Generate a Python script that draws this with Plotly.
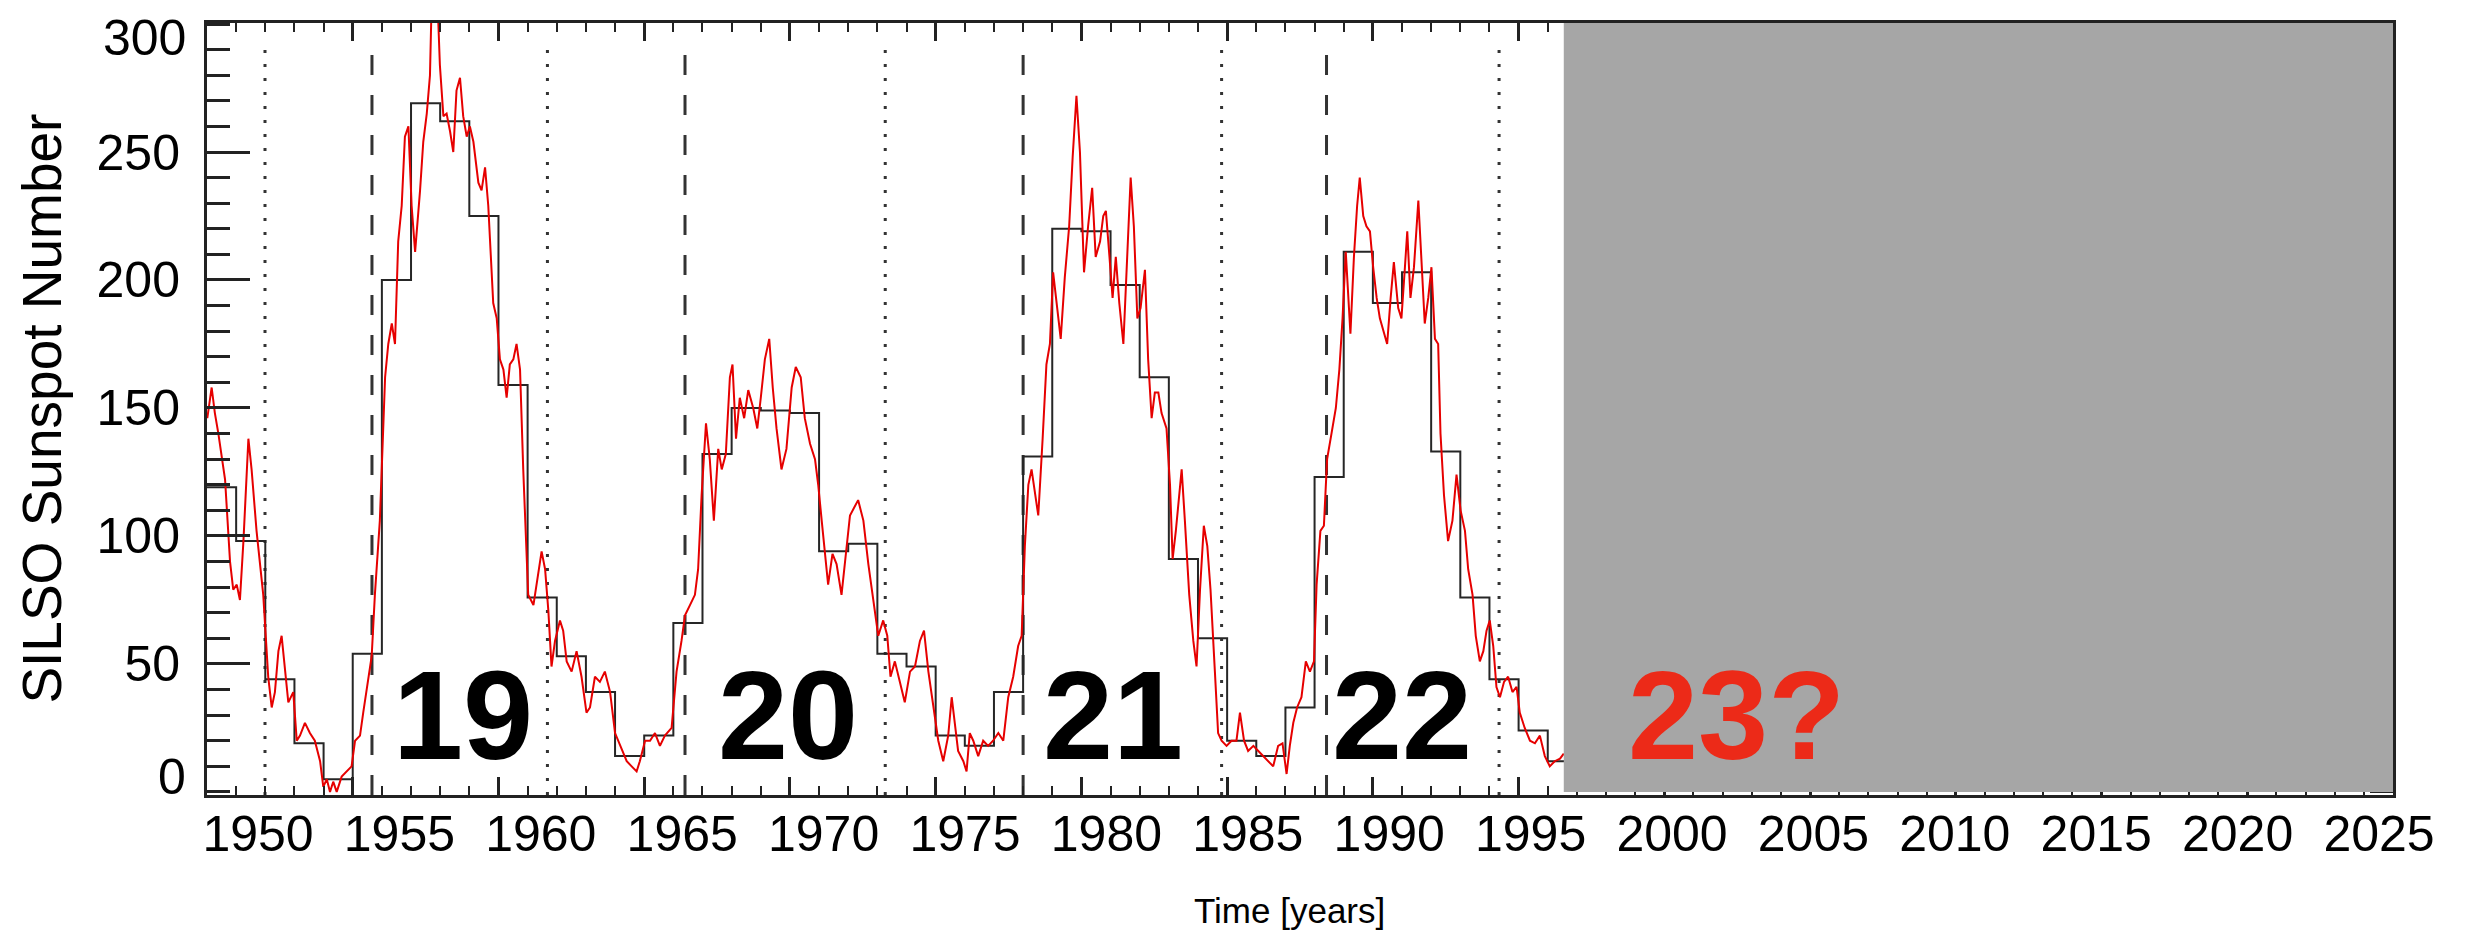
import plotly.graph_objects as go

# ---- data -------------------------------------------------------------
# yearly mean sunspot number (black steps), one value per calendar year
step_years = list(range(1950, 1997))
step_values = [119, 98, 44, 19, 5, 54, 200, 269, 262, 225, 159, 76, 53, 39, 14,
               22, 66, 132, 150, 149, 148, 94, 97, 54, 49, 22, 18, 39, 131, 220,
               219, 198, 162, 91, 60, 20, 14, 33, 123, 211, 191, 203, 133, 76,
               44, 24, 12]

# smoothed monthly sunspot number (red curve)
red_years = [
    1950.01, 1950.16, 1950.27, 1950.39, 1950.62, 1950.79, 1950.90, 1951.02, 1951.13, 1951.25,
    1951.42, 1951.53, 1951.70, 1951.93, 1952.10, 1952.22, 1952.33, 1952.45, 1952.56, 1952.68,
    1952.79, 1952.96, 1953.08, 1953.19, 1953.36, 1953.53, 1953.70, 1953.88, 1953.99, 1954.11,
    1954.22, 1954.33, 1954.45, 1954.62, 1954.79, 1954.96, 1955.08, 1955.25, 1955.36, 1955.53,
    1955.65, 1955.76, 1955.93, 1956.11, 1956.22, 1956.34, 1956.45, 1956.56, 1956.68, 1956.79,
    1956.91, 1957.02, 1957.14, 1957.31, 1957.42, 1957.54, 1957.65, 1957.76, 1957.88, 1957.99,
    1958.11, 1958.22, 1958.34, 1958.45, 1958.56, 1958.68, 1958.79, 1958.91, 1959.02, 1959.14,
    1959.31, 1959.42, 1959.54, 1959.65, 1959.82, 1959.94, 1960.05, 1960.17, 1960.28, 1960.39,
    1960.51, 1960.62, 1960.74, 1960.85, 1961.02, 1961.20, 1961.37, 1961.48, 1961.60, 1961.71,
    1961.82, 1961.94, 1962.11, 1962.22, 1962.34, 1962.51, 1962.68, 1962.85, 1963.02, 1963.14,
    1963.31, 1963.48, 1963.65, 1963.83, 1964.00, 1964.17, 1964.40, 1964.57, 1964.74, 1964.85,
    1965.03, 1965.20, 1965.37, 1965.54, 1965.71, 1965.94, 1966.11, 1966.28, 1966.40, 1966.57,
    1966.74, 1966.85, 1966.97, 1967.12, 1967.25, 1967.39, 1967.54, 1967.66, 1967.80, 1967.94,
    1968.03, 1968.15, 1968.28, 1968.43, 1968.57, 1968.74, 1968.88, 1969.00, 1969.14, 1969.29,
    1969.41, 1969.54, 1969.71, 1969.88, 1970.06, 1970.20, 1970.37, 1970.51, 1970.69, 1970.86,
    1970.97, 1971.09, 1971.20, 1971.31, 1971.46, 1971.60, 1971.77, 1971.94, 1972.06, 1972.20,
    1972.34, 1972.52, 1972.69, 1972.86, 1973.03, 1973.20, 1973.34, 1973.45, 1973.60, 1973.77,
    1973.94, 1974.12, 1974.29, 1974.46, 1974.60, 1974.75, 1974.92, 1975.09, 1975.26, 1975.43,
    1975.55, 1975.66, 1975.77, 1975.95, 1976.06, 1976.17, 1976.29, 1976.46, 1976.63, 1976.80,
    1976.97, 1977.15, 1977.32, 1977.49, 1977.66, 1977.83, 1977.95, 1978.06, 1978.18, 1978.29,
    1978.40, 1978.52, 1978.67, 1978.80, 1978.92, 1979.03, 1979.17, 1979.29, 1979.43, 1979.58,
    1979.70, 1979.83, 1979.95, 1980.09, 1980.23, 1980.37, 1980.49, 1980.64, 1980.75, 1980.84,
    1980.95, 1981.07, 1981.18, 1981.30, 1981.44, 1981.55, 1981.69, 1981.80, 1981.92, 1982.03,
    1982.18, 1982.29, 1982.41, 1982.52, 1982.64, 1982.75, 1982.92, 1983.04, 1983.13, 1983.24,
    1983.44, 1983.55, 1983.70, 1983.84, 1983.95, 1984.07, 1984.20, 1984.32, 1984.43, 1984.58,
    1984.69, 1984.81, 1984.98, 1985.15, 1985.32, 1985.44, 1985.58, 1985.72, 1985.90, 1986.07,
    1986.24, 1986.41, 1986.58, 1986.75, 1986.90, 1987.04, 1987.15, 1987.27, 1987.40, 1987.55,
    1987.70, 1987.84, 1987.98, 1988.07, 1988.20, 1988.32, 1988.43, 1988.58, 1988.73, 1988.85,
    1988.96, 1989.07, 1989.15, 1989.23, 1989.35, 1989.46, 1989.55, 1989.67, 1989.78, 1989.90,
    1990.01, 1990.13, 1990.24, 1990.38, 1990.49, 1990.61, 1990.72, 1990.87, 1990.98, 1991.10,
    1991.18, 1991.29, 1991.41, 1991.56, 1991.67, 1991.78, 1991.90, 1992.01, 1992.13, 1992.24,
    1992.32, 1992.44, 1992.58, 1992.73, 1992.87, 1993.01, 1993.16, 1993.27, 1993.42, 1993.53,
    1993.67, 1993.79, 1993.90, 1994.01, 1994.13, 1994.24, 1994.36, 1994.50, 1994.64, 1994.79,
    1994.93, 1995.04, 1995.21, 1995.39, 1995.56, 1995.73, 1995.90, 1996.07, 1996.24, 1996.42,
    1996.55]
red_values = [
    146, 158, 148, 140, 122, 90, 79, 81, 75, 98,
    138, 126, 102, 77, 45, 33, 39, 55, 61, 47,
    35, 39, 20, 22, 27, 23, 20, 12, 2, 5,
    0, 4, 0, 6, 8, 10, 20, 22, 31, 43,
    53, 77, 106, 162, 175, 183, 175, 215, 229, 256,
    260, 229, 211, 235, 254, 265, 280, 335, 318, 284,
    264, 265, 258, 250, 274, 279, 264, 256, 260, 254,
    238, 235, 244, 229, 191, 185, 169, 165, 154, 167,
    169, 175, 165, 126, 77, 73, 87, 94, 87, 71,
    49, 59, 67, 63, 51, 47, 55, 45, 31, 33,
    45, 43, 47, 39, 23, 18, 12, 10, 8, 12,
    20, 20, 23, 18, 22, 25, 47, 59, 69, 73,
    77, 87, 116, 144, 130, 106, 134, 126, 132, 162,
    167, 138, 154, 146, 157, 150, 142, 154, 169, 177,
    158, 142, 126, 134, 158, 166, 162, 146, 136, 130,
    120, 106, 93, 81, 93, 89, 77, 94, 108, 111,
    114, 106, 89, 75, 61, 67, 61, 45, 51, 43,
    35, 47, 49, 59, 63, 47, 33, 20, 12, 22,
    37, 27, 16, 12, 8, 23, 20, 14, 20, 18,
    20, 23, 20, 37, 45, 57, 61, 96, 120, 126,
    118, 108, 138, 167, 175, 203, 189, 177, 201, 221,
    248, 272, 250, 203, 221, 236, 209, 215, 225, 227,
    211, 193, 209, 191, 175, 201, 240, 221, 185, 189,
    204, 169, 146, 156, 156, 148, 142, 120, 91, 102,
    126, 106, 77, 59, 49, 79, 104, 96, 79, 47,
    23, 20, 18, 20, 20, 31, 20, 16, 18, 16,
    14, 12, 10, 18, 19, 7, 18, 27, 33, 37,
    51, 47, 51, 81, 102, 104, 130, 140, 150, 165,
    185, 211, 193, 179, 209, 229, 240, 225, 221, 219,
    205, 193, 185, 179, 175, 193, 207, 189, 185, 205,
    219, 193, 205, 231, 205, 183, 193, 205, 177, 175,
    140, 116, 98, 106, 124, 110, 102, 87, 77, 61,
    51, 55, 63, 67, 57, 41, 37, 43, 45, 39,
    41, 31, 25, 20, 19, 22, 14, 10, 12, 13,
    15]

# cycle boundary markers
dotted_years = [1951.99, 1961.68, 1973.27, 1984.81, 1994.33]
dashed_years = [1955.66, 1966.40, 1978.00, 1988.41]

# cycle labels
cycle_names = ["19", "20", "21", "22", "23?"]
cycle_x = [1958.78, 1969.92, 1981.08, 1991.00, 2002.49]
cycle_y = [30, 30, 30, 30, 30]
cycle_colors = ["black", "black", "black", "black", "#ec2a18"]

# axis ticks
year_ticks = list(range(1950, 2026, 5))
value_ticks = list(range(50, 251, 50))
edge_value_ticks = [0, 300]

# region still to come (grey box)
future_start = 1996.55
x_min, x_max = 1950, 2025
y_min, y_max = -1.2, 300.4

FONT = "Liberation Sans, Arial, Helvetica, sans-serif"
AXIS_COLOR = "#222222"

fig = go.Figure()

# vertical marker lines
for yr in dotted_years:
    fig.add_trace(go.Scatter(x=[yr, yr], y=[y_min, 294], mode="lines",
                             line=dict(color="#333333", width=3, dash="3px,11px"),
                             hoverinfo="skip"))
for yr in dashed_years:
    fig.add_trace(go.Scatter(x=[yr, yr], y=[y_min, 291], mode="lines",
                             line=dict(color="#333333", width=3, dash="20px,20px"),
                             hoverinfo="skip"))

# yearly means as steps
fig.add_trace(go.Scatter(x=step_years + [step_years[-1] + 1],
                         y=step_values + [step_values[-1]],
                         mode="lines", line=dict(color="#262626", width=2, shape="hv"),
                         hoverinfo="skip"))

# smoothed monthly curve
fig.add_trace(go.Scatter(x=red_years, y=red_values, mode="lines",
                         line=dict(color="#e60000", width=2), hoverinfo="skip"))

# empty trace that carries the year-label axis
fig.add_trace(go.Scatter(x=[], y=[], xaxis="x2", hoverinfo="skip"))

# grey box over the not-yet-covered period
fig.add_shape(type="rect", xref="x", yref="y domain",
              x0=future_start, x1=x_max, y0=0.004, y1=1,
              fillcolor="#a6a6a6", line=dict(width=0), layer="above")

for name, cx, cy, col in zip(cycle_names, cycle_x, cycle_y, cycle_colors):
    fig.add_annotation(x=cx, y=cy, text=f"<b>{name}</b>", showarrow=False,
                       font=dict(family=FONT, size=126, color=col),
                       xanchor="center", yanchor="middle")

# end labels of the value axis, nudged inside the frame
for v, shift in zip(edge_value_ticks, [15, -14]):
    fig.add_annotation(xref="paper", x=-0.0087, y=v, yshift=shift,
                       text=str(v), showarrow=False,
                       font=dict(family=FONT, size=50, color="black"),
                       xanchor="right", yanchor="middle")

# axis titles
fig.add_annotation(xref="paper", yref="paper", x=-0.0753, y=0.501,
                   text="SILSO Sunspot Number", textangle=-90, showarrow=False,
                   font=dict(family=FONT, size=55, color="black"),
                   xanchor="center", yanchor="middle")
fig.add_annotation(xref="paper", yref="paper", x=0.4954, y=-0.149,
                   text="Time [years]", showarrow=False,
                   font=dict(family=FONT, size=35, color="black"),
                   xanchor="center", yanchor="middle")

fig.update_layout(
    xaxis=dict(range=[x_min, x_max], tickmode="array", tickvals=year_ticks,
               showticklabels=False,
               ticks="inside", ticklen=18, tickwidth=3, tickcolor=AXIS_COLOR,
               minor=dict(tick0=1950, dtick=1, ticks="inside", ticklen=9,
                          tickwidth=2, tickcolor=AXIS_COLOR),
               showline=True, linewidth=3, linecolor=AXIS_COLOR, mirror="ticks",
               showgrid=False, zeroline=False),
    # label-only axis: year labels set slightly tighter than the tick marks
    xaxis2=dict(overlaying="x", anchor="y", side="bottom",
                range=[1948.197, 2025.495], tickmode="array", tickvals=year_ticks,
                ticks="", showline=False, showgrid=False, zeroline=False,
                ticklabelstandoff=5,
                tickfont=dict(family=FONT, size=50, color="black")),
    yaxis=dict(range=[y_min, y_max], tickmode="array", tickvals=value_ticks,
               ticks="inside", ticklen=43, tickwidth=3, tickcolor=AXIS_COLOR,
               minor=dict(tick0=0, dtick=10, ticks="inside", ticklen=23,
                          tickwidth=3, tickcolor=AXIS_COLOR),
               showline=True, linewidth=3, linecolor=AXIS_COLOR, mirror="ticks",
               showgrid=False, zeroline=False, ticklabelstandoff=14,
               tickfont=dict(family=FONT, size=50, color="black")),
    width=2482, height=931,
    margin=dict(l=207, r=89, t=23, b=136),
    plot_bgcolor="white", paper_bgcolor="white",
    showlegend=False,
)

fig.write_html("out.html")
